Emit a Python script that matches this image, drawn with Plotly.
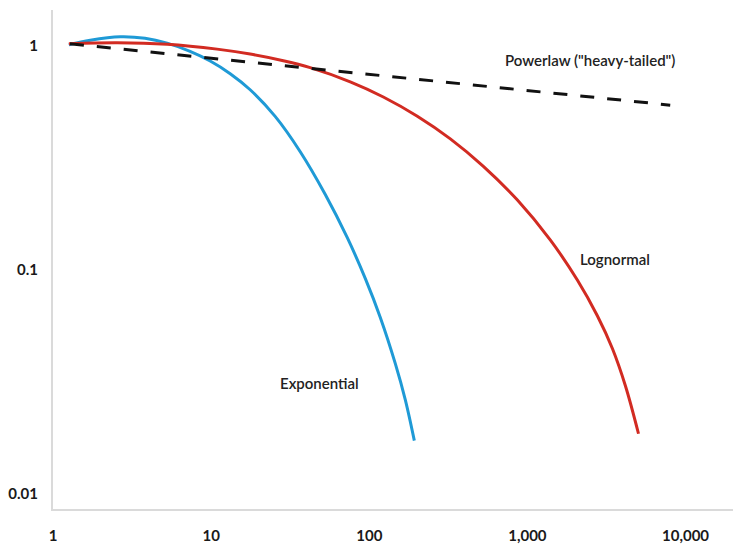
import math
import plotly.graph_objects as go

# ---- data ----
x_power = [1.28, 10, 100, 1000, 8000]
y_power = [1.02, 0.88, 0.745, 0.63, 0.543]

x_exp = [1.26, 1.72, 2.66, 3.82, 5.27, 7.36, 9.86, 13.2, 17.65, 25.4, 36.6, 52.7, 72.6, 94.3, 117.4, 146.1, 169.0, 192.7]
y_exp = [1.010, 1.058, 1.096, 1.079, 1.026, 0.943, 0.854, 0.750, 0.636, 0.4836, 0.3365, 0.2169, 0.1392, 0.0917, 0.0614, 0.0382, 0.02635, 0.01733]

x_logn = [1.26, 2.54, 5.27, 10.9, 17.65, 28.6, 42.3, 75.8, 122.7, 201.3, 325.6, 526.6, 864.4, 1398, 2073, 2773, 3451, 4173, 5041]
y_logn = [1.020, 1.031, 1.015, 0.965, 0.917, 0.857, 0.798, 0.690, 0.5905, 0.4846, 0.3841, 0.2897, 0.2049, 0.1358, 0.0899, 0.0623, 0.0445, 0.0303, 0.0186]

x_tickvals = [1, 10, 100, 1000, 10000]
x_ticktext = ["1", "10", "100", "1,000", "10,000"]
y_tickvals = [0.01, 0.1, 1]
y_ticktext = ["0.01", "0.1", "1"]

labels = ['Powerlaw ("heavy-tailed")', "Lognormal", "Exponential"]
label_x = [705, 2100, 26.5]
label_y = [0.859, 0.112, 0.0313]

BLUE = "#1f9ad6"
RED = "#d22b22"
FONT = "Lato"

fig = go.Figure()
fig.add_trace(go.Scatter(x=x_exp, y=y_exp, mode="lines",
                         line=dict(color=BLUE, width=3, shape="spline", smoothing=1),
                         hoverinfo="skip"))
fig.add_trace(go.Scatter(x=x_logn, y=y_logn, mode="lines",
                         line=dict(color=RED, width=3, shape="spline", smoothing=1),
                         hoverinfo="skip"))
fig.add_trace(go.Scatter(x=x_power, y=y_power, mode="lines",
                         line=dict(color="#111111", width=3, dash="14px,13px"),
                         hoverinfo="skip"))

for t, lx, ly in zip(labels, label_x, label_y):
    fig.add_annotation(x=math.log10(lx), y=math.log10(ly), text=t, showarrow=False,
                       xanchor="left", yanchor="middle",
                       font=dict(family=FONT, size=15, color="#222222", weight=600))

axis_common = dict(showgrid=False, zeroline=False, showline=True,
                   linecolor="#dadada", linewidth=2,
                   tickfont=dict(family=FONT, size=15, color="#1a1a1a", weight="bold"),
                   ticks="outside", tickcolor="rgba(0,0,0,0)")

fig.update_layout(
    width=734, height=545,
    margin=dict(l=53, r=1, t=10, b=32),
    paper_bgcolor="white", plot_bgcolor="white",
    showlegend=False,
    xaxis=dict(type="log", range=[0, 4.30], tickmode="array",
               tickvals=x_tickvals, ticktext=x_ticktext, ticklen=12,
               **axis_common),
    yaxis=dict(type="log", range=[-2.066, 0.159], tickmode="array",
               tickvals=y_tickvals, ticktext=y_ticktext, ticklen=10,
               **axis_common),
)

fig.write_html("out.html")
